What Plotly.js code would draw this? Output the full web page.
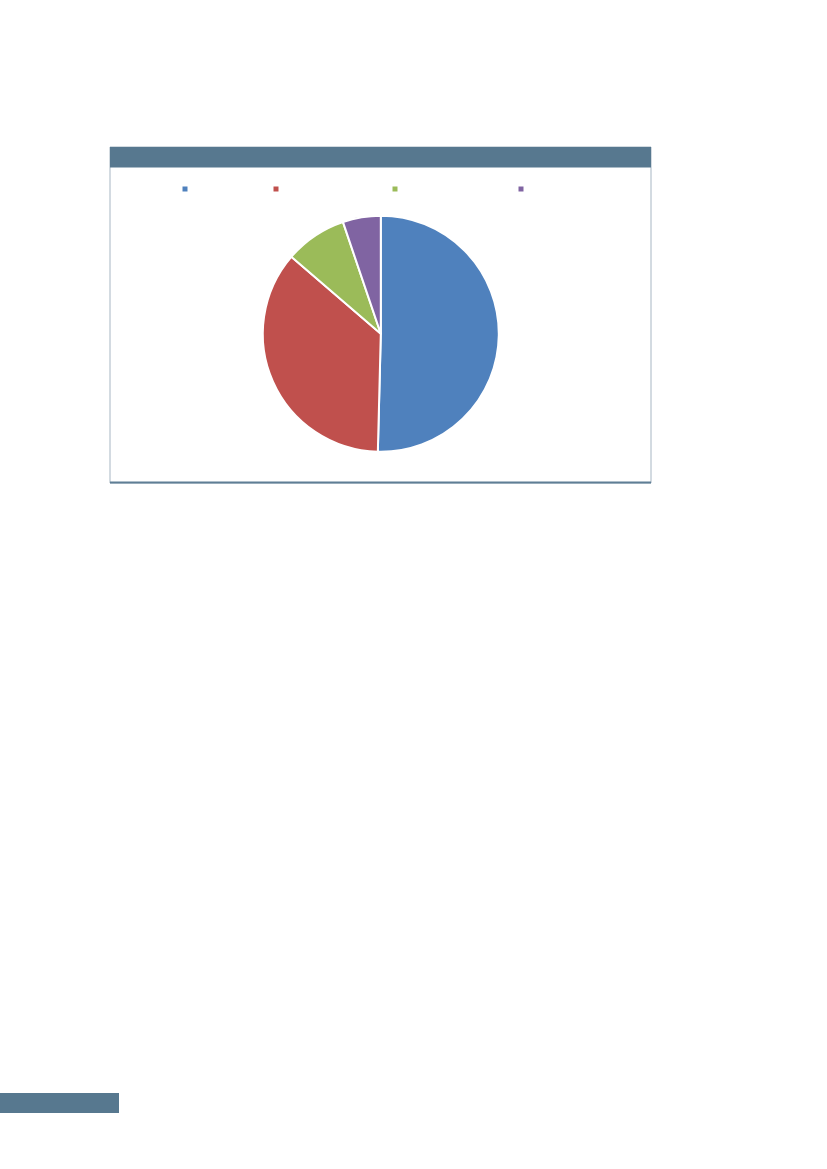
<!DOCTYPE html>
<html>
<head>
<meta charset="utf-8">
<script src="https://cdn.plot.ly/plotly-3.0.1.min.js"></script>
<style>
html,body{margin:0;padding:0;background:#fff;}
#chart{width:827px;height:1169px;}
</style>
</head>
<body>
<div id="chart"></div>
<script>
// Data (legend labels are not visible in the reference)
var sliceIds = ["s1", "s2", "s3", "s4"];
var sliceValues = [50.4, 35.9, 8.5, 5.2];
var sliceColors = ["#4F81BD", "#C0504D", "#9BBB59", "#8064A2"];
var legendX = [185, 276, 395, 521]; // legend marker centers (px)

var W = 827, H = 1169;
function px(x){ return x / W; }
function py(y){ return 1 - y / H; }

var cx = 380.8, cy = 333.7, r = 118;

var trace = {
  type: "pie",
  labels: sliceIds,
  values: sliceValues,
  sort: false,
  direction: "clockwise",
  rotation: 0,
  textinfo: "none",
  hoverinfo: "value",
  marker: { colors: sliceColors, line: { color: "#FFFFFF", width: 2 } },
  domain: { x: [px(cx - r), px(cx + r)], y: [py(cy + r), py(cy - r)] },
  showlegend: false
};

var shapes = [
  // chart box
  { type: "rect", xref: "paper", yref: "paper", x0: px(110), x1: px(651), y0: py(483), y1: py(147),
    line: { color: "#A7B6C3", width: 1 }, fillcolor: "rgba(0,0,0,0)" },
  // bottom shadow line
  { type: "line", xref: "paper", yref: "paper", x0: px(110), x1: px(651), y0: py(482.5), y1: py(482.5),
    line: { color: "#5F7E95", width: 2 } },
  // header bar
  { type: "rect", xref: "paper", yref: "paper", x0: px(110), x1: px(651), y0: py(167.5), y1: py(147),
    line: { width: 0 }, fillcolor: "#57788F" },
  // page footer bar
  { type: "rect", xref: "paper", yref: "paper", x0: px(0), x1: px(119), y0: py(1113), y1: py(1093),
    line: { width: 0 }, fillcolor: "#57788F" }
];
// legend markers
for (var i = 0; i < sliceColors.length; i++) {
  shapes.push({ type: "rect", xref: "paper", yref: "paper",
    x0: px(legendX[i] - 2.5), x1: px(legendX[i] + 2.5), y0: py(191.5), y1: py(186.5),
    line: { width: 0 }, fillcolor: sliceColors[i] });
}

var layout = {
  width: W, height: H,
  margin: { l: 0, r: 0, t: 0, b: 0, pad: 0 },
  paper_bgcolor: "#FFFFFF",
  plot_bgcolor: "#FFFFFF",
  showlegend: false,
  shapes: shapes
};

Plotly.newPlot("chart", [trace], layout, { displayModeBar: false, staticPlot: true });
</script>
</body>
</html>
